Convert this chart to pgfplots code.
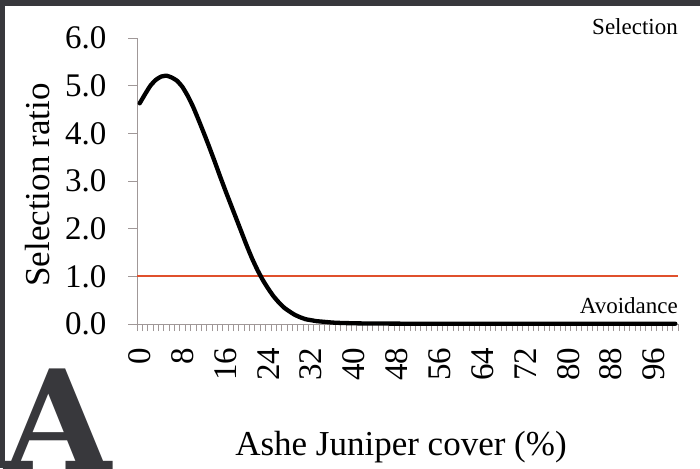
\documentclass[border=0pt]{standalone}
\usepackage{pgfplots}
\pgfplotsset{compat=1.18}
\usepackage{fontspec}
\setmainfont{Liberation Serif}
\newfontfamily\bigAfont{DejaVu Serif}
\definecolor{framegray}{HTML}{38383C}
\definecolor{axgray}{HTML}{A09898}
\definecolor{redline}{HTML}{E0502C}
\begin{document}
\begin{tikzpicture}
\fill[framegray] (0,0) rectangle (700pt,468pt);
\fill[white] (5pt,0) rectangle (700pt,462pt);
\begin{axis}[
  at={(137pt,144pt)}, anchor=south west,
  scale only axis, width=541pt, height=286pt,
  xmin=-0.5, xmax=100.5, ymin=0, ymax=6,
  axis x line=bottom, axis y line=left,
  axis line style={axgray, line width=0.9pt, -},
  tick align=outside,
  xtick={0,8,...,96}, major x tick style={draw=none},
  minor xtick={-0.5,0.5,...,100.5},
  minor tick length=7pt,
  ytick={0,1,...,6}, major tick length=9pt,
  every tick/.style={axgray, line width=0.8pt},
  xticklabel style={rotate=90, anchor=east, font=\fontsize{33}{33}\selectfont, xshift=-11pt},
  yticklabel style={font=\fontsize{33}{33}\selectfont, xshift=-18pt, /pgf/number format/.cd, fixed, fixed zerofill, precision=1},
  /pgf/number format/assume math mode=true,
  xlabel={Ashe Juniper cover (\%)},
  ylabel={Selection ratio},
  xlabel style={at={(axis description cs:0.488,-0.46)}, anchor=base, font=\fontsize{35}{35}\selectfont},
  ylabel style={at={(axis description cs:-0.184,0.486)}, anchor=center, rotate=0, font=\fontsize{35}{35}\selectfont},
  clip=false,
]
\addplot[redline, line width=2.2pt] coordinates {(-0.5,1) (100.5,1)};
\addplot[black, line width=4.3pt, line join=round, line cap=round, smooth, tension=0.3] coordinates {
(0,4.63) (1,4.82) (2,5.00) (3,5.12) (4,5.19) (5,5.21) (6,5.17) (7,5.10) (8,4.97) (9,4.78)
(10,4.55) (11,4.28) (12,4.00) (13,3.71) (14,3.41) (15,3.10) (16,2.80) (17,2.51) (18,2.22) (19,1.93)
(20,1.64) (21,1.37) (22,1.13) (23,0.92) (24,0.74) (25,0.58) (26,0.45) (27,0.34) (28,0.26) (29,0.19)
(30,0.14) (31,0.10) (32,0.08) (33,0.06) (34,0.05) (35,0.04) (36,0.03) (37,0.025) (38,0.02) (39,0.018)
(40,0.015) (41,0.013) (42,0.012) (43,0.011) (44,0.010) (45,0.009) (46,0.009) (47,0.008) (48,0.008) (49,0.007)
(50,0.007) (51,0.006) (52,0.006) (53,0.006) (54,0.005) (55,0.005) (56,0.005) (57,0.005) (58,0.005) (59,0.005)
(60,0.005) (61,0.005) (62,0.005) (63,0.005) (64,0.005) (65,0.005) (66,0.005) (67,0.005) (68,0.005) (69,0.005)
(70,0.005) (71,0.005) (72,0.005) (73,0.005) (74,0.005) (75,0.005) (76,0.005) (77,0.005) (78,0.005) (79,0.005)
(80,0.005) (81,0.005) (82,0.005) (83,0.005) (84,0.005) (85,0.005) (86,0.005) (87,0.005) (88,0.005) (89,0.005)
(90,0.005) (91,0.005) (92,0.005) (93,0.005) (94,0.005) (95,0.005) (96,0.005) (97,0.005) (98,0.005) (99,0.005)
(100,0.005)};
\end{axis}
\node[anchor=base east, inner sep=0pt, font=\fontsize{23}{23}\selectfont] at (678pt,433pt) {Selection};
\node[anchor=base east, inner sep=0pt, font=\fontsize{23}{23}\selectfont] at (678pt,154pt) {Avoidance};
\node[anchor=base west, inner sep=0pt, text=framegray, font=\bigAfont\bfseries\fontsize{138}{138}\selectfont] at (4pt,-1pt) {A};
\pgfresetboundingbox
\useasboundingbox (0,0) rectangle (700pt,468pt);
\end{tikzpicture}
\end{document}
